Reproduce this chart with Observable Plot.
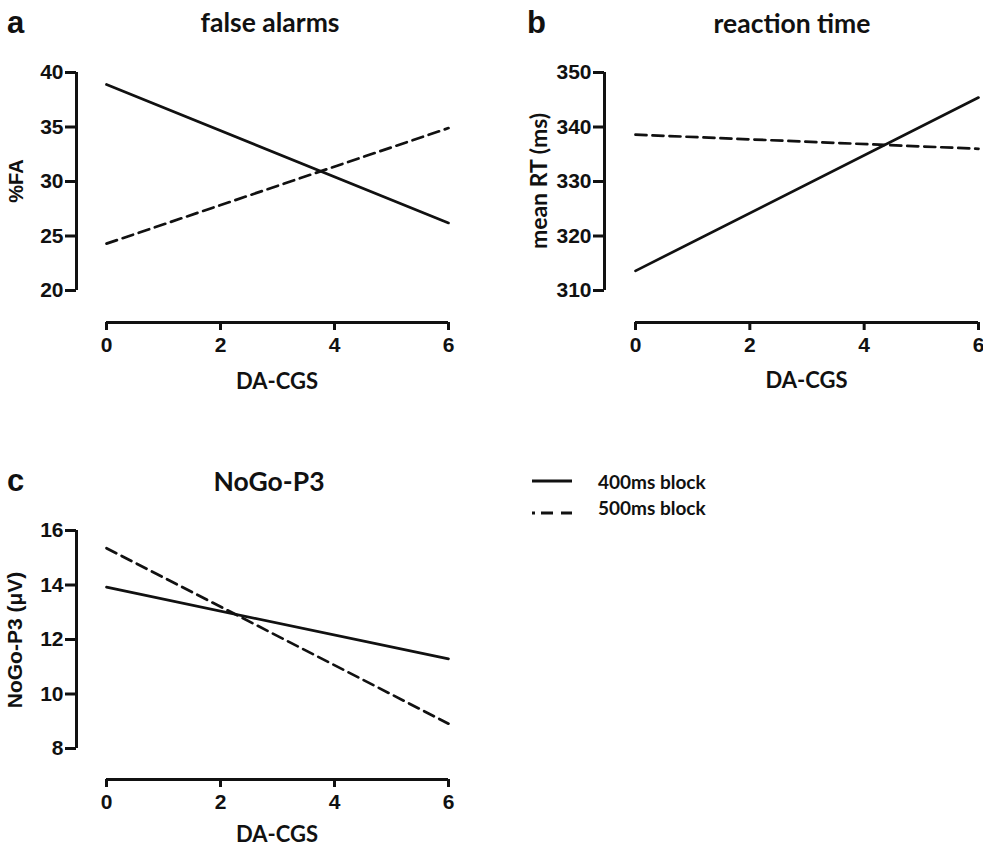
<!DOCTYPE html>
<html>
<head>
<meta charset="utf-8">
<script src="https://cdn.jsdelivr.net/npm/d3@7"></script>
<script src="https://cdn.jsdelivr.net/npm/@observablehq/plot@0.6"></script>
<style>
  html, body { margin: 0; padding: 0; background: #fff; }
  #root { position: relative; width: 983px; height: 848px; overflow: hidden; background: #fff; }
  .panel { position: absolute; }
  .panel svg text { font-size: 21px !important; font-weight: 700 !important; font-family: "Liberation Sans", Arial, sans-serif !important; fill: #111; }
  #overlay { position: absolute; left: 0; top: 0; pointer-events: none; }
  .ttl { font-family: Lato, "Open Sans", sans-serif; font-weight: 700; fill: #111; }
  .let { font-family: "Liberation Sans", Arial, sans-serif; font-weight: 700; fill: #111; }
</style>
</head>
<body>
<div id="root"></div>
<script>
// ---------- data ----------
const doseLevels = [0, 6];            // DA-CGS (x values of regression lines)
const xTicks = [0, 2, 4, 6];
const blocks = ["400ms block", "500ms block"];

const fa400 = [38.9, 26.2];           // % false alarms
const fa500 = [24.3, 34.9];
const faTicks = [20, 25, 30, 35, 40];

const rt400 = [313.6, 345.4];         // mean RT (ms)
const rt500 = [338.6, 336.0];
const rtTicks = [310, 320, 330, 340, 350];

const p3_400 = [13.92, 11.29];        // NoGo-P3 (µV)
const p3_500 = [15.35, 8.91];
const p3Ticks = [8, 10, 12, 14, 16];

const panelTitles = ["false alarms", "reaction time", "NoGo-P3"];
const panelLetters = ["a", "b", "c"];
const yLabels = ["%FA", "mean RT (ms)", "NoGo-P3 (\u03bcV)"];
const xLabel = "DA-CGS";

// ---------- drawing ----------
const toRows = (vals, block) => doseLevels.map((x, i) => ({x, y: vals[i], block}));
const tickFont = {fontSize: 21, fontWeight: "bold", fontFamily: "'Liberation Sans', Arial, sans-serif"};

function panel(opts) {
  const {yTicks, s400, s500, width, height, marginTop, marginBottom, marginLeft, marginRight, insetLeft, insetBottom} = opts;
  const yDomain = [yTicks[0], yTicks[yTicks.length - 1]];
  const xDomain = [xTicks[0], xTicks[xTicks.length - 1]];
  return Plot.plot({
    width, height, marginTop, marginBottom, marginLeft, marginRight,
    style: {fontFamily: "'Liberation Sans', Arial, sans-serif", fontSize: "21px", fontWeight: "bold", color: "#111", background: "transparent", overflow: "visible"},
    x: {domain: xDomain, insetLeft, insetRight: 0},
    y: {domain: yDomain, insetBottom, insetTop: 0},
    marks: [
      Plot.ruleX([xDomain[0]], {x: d => d, y1: yDomain[0], y2: yDomain[1], dx: -insetLeft, strokeWidth: 3, stroke: "#111"}),
      Plot.ruleY([yDomain[0]], {y: d => d, x1: xDomain[0], x2: xDomain[1], dy: insetBottom, strokeWidth: 3, stroke: "#111"}),
      Plot.axisY({ticks: yTicks, tickSize: 11, tickPadding: 2, strokeWidth: 3, label: null, tickFormat: d => String(d), ...tickFont}),
      Plot.axisX({ticks: xTicks, tickSize: 8, tickPadding: 7, strokeWidth: 3, label: null, tickFormat: d => String(d), ...tickFont}),
      Plot.line(toRows(s400, blocks[0]), {x: "x", y: "y", stroke: "#111", strokeWidth: 2.7}),
      Plot.line(toRows(s500, blocks[1]), {x: "x", y: "y", stroke: "#111", strokeWidth: 2.7, strokeDasharray: "11,6"})
    ]
  });
}

const root = document.getElementById("root");
const layouts = [
  {left: 0, top: 0, width: 480, height: 400, marginTop: 72, marginBottom: 78, marginLeft: 76, marginRight: 32, insetLeft: 30, insetBottom: 32, yTicks: faTicks, s400: fa400, s500: fa500},
  {left: 480, top: 0, width: 503, height: 400, marginTop: 72, marginBottom: 78, marginLeft: 124, marginRight: 5, insetLeft: 31, insetBottom: 32, yTicks: rtTicks, s400: rt400, s500: rt500},
  {left: 0, top: 420, width: 480, height: 428, marginTop: 110, marginBottom: 69, marginLeft: 76, marginRight: 32, insetLeft: 30, insetBottom: 31, yTicks: p3Ticks, s400: p3_400, s500: p3_500}
];
for (const L of layouts) {
  const div = document.createElement("div");
  div.className = "panel";
  div.style.left = L.left + "px";
  div.style.top = L.top + "px";
  div.appendChild(panel(L));
  root.appendChild(div);
}

// ---------- titles, axis labels, legend ----------
const NS = "http://www.w3.org/2000/svg";
const ov = document.createElementNS(NS, "svg");
ov.setAttribute("id", "overlay");
ov.setAttribute("width", 983);
ov.setAttribute("height", 848);
root.appendChild(ov);
function txt(str, x, y, cls, size, anchor = "start", rotate = 0) {
  const t = document.createElementNS(NS, "text");
  t.textContent = str;
  t.setAttribute("class", cls);
  t.setAttribute("font-size", size);
  t.setAttribute("text-anchor", anchor);
  t.setAttribute("transform", `translate(${x},${y})` + (rotate ? ` rotate(${rotate})` : ""));
  ov.appendChild(t);
  return t;
}
const letterPos = [[7, 33], [527, 33], [7, 491]];
const titlePos = [[270, 32], [792, 33], [269, 491]];
const xLabPos = [[277, 389], [806.5, 388], [277, 842]];
panelLetters.forEach((s, i) => txt(s, letterPos[i][0], letterPos[i][1], "let", 31));
panelTitles.forEach((s, i) => txt(s, titlePos[i][0], titlePos[i][1], "ttl", 26.5, "middle"));
xLabPos.forEach(p => txt(xLabel, p[0], p[1], "ttl", 22, "middle"));
txt(yLabels[0], 23, 181, "let", 20, "middle", -90);
txt(yLabels[1], 547, 181, "ttl", 23, "middle", -90);
txt(yLabels[2], 22, 640, "let", 21, "middle", -90);

// legend
const legendY = [481, 513];
const legendTextY = [489, 515];
const dashes = [null, "3,6,12,8,12"];
blocks.forEach((b, i) => {
  const l = document.createElementNS(NS, "line");
  l.setAttribute("x1", 532); l.setAttribute("x2", 572);
  l.setAttribute("y1", legendY[i]); l.setAttribute("y2", legendY[i]);
  l.setAttribute("stroke", "#111"); l.setAttribute("stroke-width", 3);
  if (dashes[i]) l.setAttribute("stroke-dasharray", dashes[i]);
  ov.appendChild(l);
  txt(b, 598, legendTextY[i], "ttl", 19);
});
</script>
</body>
</html>
